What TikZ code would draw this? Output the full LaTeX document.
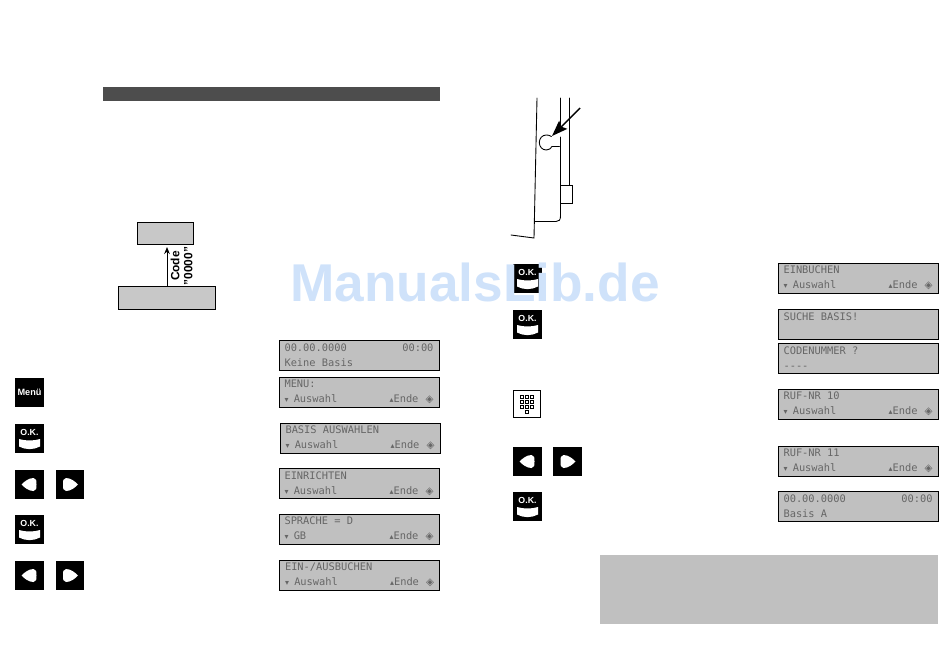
\documentclass[tikz,border=0pt]{standalone}
\usepackage{fontspec}
\setmainfont{Liberation Sans}
\newfontfamily\lcdfont{DejaVu Sans Mono}
\newfontfamily\lcdsym{DejaVu Sans}
\usetikzlibrary{arrows.meta}
\newcommand{\lcdnav}{\hfill{\lcdsym\fontsize{4.5}{8.5}\selectfont ▴}Ende\hspace{4pt}{\lcdsym ◈}}
\newcommand{\lcddown}{{\lcdsym\fontsize{4.5}{8.5}\selectfont ▾}\hspace{3pt}}
\tikzset{%
  lcdBox/.style={draw=black,line width=0.5pt,fill=lcdGray,text=lcdText,
    minimum width=3.2cm,minimum height=0.6cm,text width=2.98cm,inner xsep=0.1cm,
    inner ysep=0pt,align=flush left,font=\lcdfont\fontsize{5.9}{8.5}\selectfont},
  grayBox/.style={draw=black,line width=0.5pt,fill=boxGray},
  keyBox/.style={fill=black,minimum width=0.58cm,minimum height=0.58cm,inner sep=0pt},
  keyText/.style={text=white,inner sep=0pt,font=\bfseries\fontsize{5}{5}\selectfont},
  sketchLine/.style={line width=0.5pt,line cap=round},
  okKey/.pic={
    \node[keyBox] (-box) at (0,0) {};
    \node[keyText] (-text) at (0,-6.5) {O.K.};
    \fill[white] (-10.5,0.5) .. controls (-4,2.5) and (4,2.5) .. (10.5,0.5) -- (10.5,8)
      .. controls (4,11.5) and (-4,11.5) .. (-10.5,8) -- cycle;
  },
  leftKey/.pic={
    \node[keyBox] (-box) at (0,0) {};
    \fill[white] (-8,0) .. controls (-5,-3) and (-1,-6.5) .. (4,-6.5)
      .. controls (7,-6.5) and (7,-3.5) .. (7,0) .. controls (7,3.5) and (7,6.5) .. (4,6.5)
      .. controls (-1,6.5) and (-5,3) .. (-8,0) -- cycle;
  },
  rightKey/.pic={
    \node[keyBox] (-box) at (0,0) {};
    \fill[white] (8,0) .. controls (5,-3) and (1,-6.5) .. (-4,-6.5)
      .. controls (-7,-6.5) and (-7,-3.5) .. (-7,0) .. controls (-7,3.5) and (-7,6.5) .. (-4,6.5)
      .. controls (1,6.5) and (5,3) .. (8,0) -- cycle;
  }
}
\definecolor{lcdGray}{HTML}{C0C0C0}
\definecolor{lcdText}{HTML}{666666}
\definecolor{boxGray}{HTML}{C8C8C8}
\definecolor{barGray}{HTML}{4D4D4D}
\definecolor{markBlue}{HTML}{CFE2FA}
\begin{document}
\begin{tikzpicture}[x=0.02cm,y=-0.02cm]
\useasboundingbox (0,0) rectangle (950,667);
%% header bar and note box
\node[fill=barGray,minimum width=6.74cm,minimum height=0.28cm,inner sep=0pt] (headerBar) at (271.5,94) {};
\node[fill=lcdGray,minimum width=6.76cm,minimum height=1.38cm,inner sep=0pt] (noteBox) at (769,589.5) {};
%% code diagram
\node[grayBox,minimum width=1.12cm,minimum height=0.44cm,inner sep=0pt] (topBox) at (165,233) {};
\node[grayBox,minimum width=1.94cm,minimum height=0.46cm,inner sep=0pt] (bottomBox) at (166.5,297.5) {};
\coordinate (arrowEnd) at (167,247);
\draw[-{Stealth[length=4pt,width=3.2pt]},line width=0.5pt] (bottomBox.north -| arrowEnd) -- (arrowEnd);
\node[rotate=90,align=center,inner sep=0pt,font=\bfseries\fontsize{6.8}{7.4}\selectfont] (codeText) at (181.5,266) {Code\\"0000"};
%% displays
\foreach \nodename/\x/\y/\first/\second in {
  date/359/355/00.00.0000\hfill 00:00/Keine Basis,
  menu/359/392/MENU:/\lcddown Auswahl\lcdnav,
  basis/360/438/BASIS AUSWAHLEN/\lcddown Auswahl\lcdnav,
  setup/359/483.5/EINRICHTEN/\lcddown Auswahl\lcdnav,
  lang/359/529/SPRACHE = D/\lcddown GB\lcdnav,
  login/858/278/EINBUCHEN/\lcddown Auswahl\lcdnav,
  search/858/324/SUCHE BASIS!/~,
  code/858/358/CODENUMMER ?/----,
  callA/858/404/RUF-NR 10/\lcddown Auswahl\lcdnav,
  callB/858/461/RUF-NR 11/\lcddown Auswahl\lcdnav,
  done/858/506/00.00.0000\hfill 00:00/Basis A}
{
  \node[lcdBox] (\nodename) at (\x,\y) {\first\\\second};
}
\node[lcdBox] (book) at (359.5,575) {EIN-{}/AUSBUCHEN\\\lcddown Auswahl\lcdnav};
%% keys
\node[keyBox] (menuKey) at (29.5,392.5) {};
\node[keyText,font=\bfseries\fontsize{5.2}{5}\selectfont] (menuText) at (menuKey) {Menü};
\foreach \keyname/\keystyle/\x/\y in {
  okA/okKey/29.5/438.5, arrowA/leftKey/29.5/484.5, arrowB/rightKey/70/484.5,
  okB/okKey/29.5/529.5, arrowC/leftKey/29.5/575.5, arrowD/rightKey/70/575.5,
  okC/okKey/527.5/278.5, okD/okKey/527.5/324.5,
  arrowE/leftKey/527.5/461.5, arrowF/rightKey/567.5/461.5, okE/okKey/527.5/506.5}
{
  \pic (\keyname) at (\x,\y) {\keystyle};
}
%% keypad key
\node[draw=black,line width=0.5pt,fill=white,minimum width=0.54cm,minimum height=0.54cm,inner sep=0pt] (padKey) at (527,404) {};
\foreach \col/\row in {-1/-1,0/-1,1/-1,-1/0,0/0,1/0,-1/1,0/1,1/1,0/2}
{
  \node[draw=black,line width=0.35pt,minimum width=0.07cm,minimum height=0.05cm,inner sep=0pt] (pad\col\row) at (526.7+5*\col,401.7+5*\row) {};
}
%% housing sketch
\coordinate (edgeTop) at (537,98);
\coordinate (edgeFoot) at (534,238);
\coordinate (footEnd) at (511,235);
\coordinate (wallTop) at (560.5,98);
\coordinate (wallBreak) at (560.5,128);
\coordinate (railTop) at (569,98);
\node[draw=black,line width=0.5pt,minimum width=0.24cm,minimum height=0.36cm,inner sep=0pt] (clip) at (566.5,194) {};
\coordinate (tipStart) at (580,108);
\coordinate (tipEnd) at (552,136);
\draw[sketchLine] (edgeTop) -- (edgeFoot) -- (footEnd);
\draw[sketchLine] (wallTop) -- (wallBreak);
\draw[sketchLine] (railTop) -- (clip.north -| railTop);
\draw[sketchLine] (560.5,137) -- (560.5,216) .. controls (560.5,220) and (559,221.5) .. (556,221.5) -- (535,221.5);
\draw[sketchLine] (551.5,136.5) .. controls (549.5,135.2) and (547.8,135) .. (546.3,135)
  .. controls (542.3,135) and (539.3,138.3) .. (539.3,142.5)
  .. controls (539.3,146.7) and (542.3,150) .. (546.3,150)
  .. controls (549,150) and (551,148.5) .. (552,146.5) -- (559.5,146.5);
\draw[-{Stealth[length=9pt,width=6.5pt,inset=1.5pt]},line width=0.8pt] (tipStart) -- (tipEnd);
%% watermark
\node[text=markBlue,inner sep=0pt,font=\bfseries\fontsize{30.3}{31}\selectfont] (watermark) at (475,282) {ManualsLib.de};
\end{tikzpicture}
\end{document}
